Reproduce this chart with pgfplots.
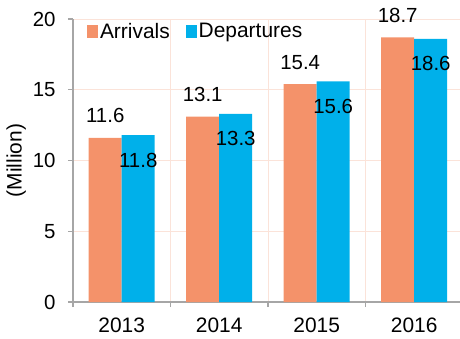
\documentclass[border=0pt]{standalone}
\usepackage{fontspec}
\setmainfont{Liberation Sans}
\usepackage{pgfplots}
\pgfplotsset{compat=1.18}
\definecolor{arr}{HTML}{F4926A}
\definecolor{dep}{HTML}{00B0EA}
\definecolor{axgray}{HTML}{A6A6A6}
\definecolor{gridpink}{HTML}{FBE3D9}
\newcommand{\chartfont}{\fontsize{20.5}{24}\selectfont}
\newcommand{\labelfont}{\fontsize{21}{25}\selectfont}
\pgfplotsset{sqlegend/.style={legend image code/.code={\fill[##1] (0bp,-6.5bp) rectangle (11bp,6.5bp);}}}

\begin{document}
\begin{tikzpicture}
\begin{axis}[
  scale only axis, width=387bp, height=283bp,
  xmin=-0.5, xmax=3.47, ymin=0, ymax=20,
  ytick={0,5,10,15,20},
  xtick={-0.5,0.5,1.5,2.5}, xticklabels={},
  extra x ticks={0,1,2,3}, extra x tick labels={2013,2014,2015,2016},
  extra x tick style={major tick length=0pt, grid=none,
    xticklabel style={font=\labelfont, yshift=-12bp}},
  xmajorgrids, ymajorgrids,
  grid style={gridpink, line width=0.8bp},
  axis x line=bottom, axis y line=left,
  axis line style={axgray, line width=1.3bp, -},
  tick style={axgray, line width=1.3bp},
  tick align=outside, major tick length=5bp,
  tick label style={font=\chartfont, black},
  yticklabel style={xshift=-9bp},
  /pgf/number format/assume math mode=true,
  ylabel={(Million)}, ylabel style={font=\labelfont},
  ybar=0pt, bar width=33bp,
  legend style={draw=none, fill=none, font=\labelfont, at={(0.028,1.0)}, anchor=north west,
    /tikz/every even column/.append style={column sep=14bp}},
  legend columns=2,
]
\addplot[fill=arr, draw=none, sqlegend, nodes near coords,
  every node near coord/.append style={font=\chartfont, black, anchor=center, yshift=22bp}]
  coordinates {(0,11.6) (1,13.1) (2,15.4) (3,18.7)};
\addplot[fill=dep, draw=none, sqlegend, nodes near coords,
  every node near coord/.append style={font=\chartfont, black, anchor=center, yshift=-25bp}]
  coordinates {(0,11.8) (1,13.3) (2,15.6) (3,18.6)};
\legend{Arrivals, Departures}
\coordinate (bl) at (rel axis cs:0,0);
\coordinate (tr) at (rel axis cs:1,1);
\end{axis}
\pgfresetboundingbox
\path[use as bounding box] ([shift={(-73bp,-37bp)}]bl) rectangle ([shift={(0bp,19bp)}]tr);
\end{tikzpicture}
\end{document}
